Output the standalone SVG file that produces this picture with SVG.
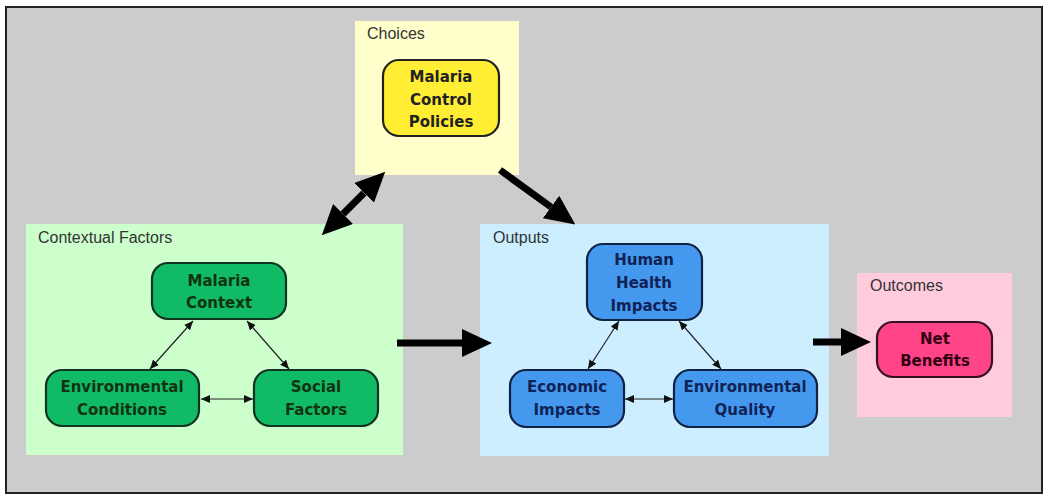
<svg xmlns="http://www.w3.org/2000/svg" width="1050" height="503" viewBox="0 0 1050 503">
<style>
.grp{font-family:"Liberation Sans",Arial,sans-serif;font-size:16px;fill:#333}
.nt{font-family:"DejaVu Sans",Verdana,sans-serif;font-weight:bold;font-size:15px;text-anchor:middle}
.node{stroke-width:2.2}
.big{stroke:#000;stroke-width:7;fill:none}
.sm{stroke:#222;stroke-width:1.2;fill:none}
</style>
<defs>
<marker id="bh" markerUnits="userSpaceOnUse" markerWidth="30" markerHeight="28" refX="0" refY="14" orient="auto-start-reverse" viewBox="0 0 30 28">
<path d="M0,0 L30,14 L0,28 z" fill="#000"/>
</marker>
<marker id="sh" markerUnits="userSpaceOnUse" markerWidth="9" markerHeight="8" refX="9" refY="4" orient="auto-start-reverse" viewBox="0 0 9 8">
<path d="M0,0 L9,4 L0,8 z" fill="#111"/>
</marker>
</defs>
<rect x="0" y="0" width="1050" height="503" fill="#fff"/>
<rect x="6" y="7" width="1036" height="486" fill="#cccccc" stroke="#222" stroke-width="2"/>

<g id="choices">
<rect x="355" y="21" width="164" height="154" fill="#ffffcc"/>
<text class="grp" x="367" y="39">Choices</text>
</g>
<g id="contextual-factors">
<rect x="26" y="224" width="377" height="231" fill="#ccffcc"/>
<text class="grp" x="38" y="243" fill="#224422">Contextual Factors</text>
</g>
<g id="outputs">
<rect x="480" y="224" width="349" height="232" fill="#cceeff"/>
<text class="grp" x="493" y="243" fill="#223344">Outputs</text>
</g>
<g id="outcomes">
<rect x="857" y="273" width="155" height="144" fill="#ffccdd"/>
<text class="grp" x="870" y="291" fill="#442233">Outcomes</text>
</g>

<g id="malaria-control-policies">
<rect class="node" x="383" y="60" width="116" height="76" rx="16" fill="#ffee33" stroke="#222"/>
<text class="nt" x="441" fill="#222"><tspan x="441" y="82">Malaria</tspan><tspan x="441" y="105">Control</tspan><tspan x="441" y="127">Policies</tspan></text>
</g>
<g id="malaria-context">
<rect class="node" x="152" y="263" width="134" height="56" rx="16" fill="#11bb66" stroke="#113322"/>
<text class="nt" x="219" fill="#113311"><tspan x="219" y="286">Malaria</tspan><tspan x="219" y="308">Context</tspan></text>
</g>
<g id="environmental-conditions">
<rect class="node" x="46" y="370" width="153" height="56" rx="16" fill="#11bb66" stroke="#113322"/>
<text class="nt" x="122" fill="#113311"><tspan x="122" y="392">Environmental</tspan><tspan x="122" y="415">Conditions</tspan></text>
</g>
<g id="social-factors">
<rect class="node" x="254" y="370" width="124" height="56" rx="16" fill="#11bb66" stroke="#113322"/>
<text class="nt" x="316" fill="#113311"><tspan x="316" y="392">Social</tspan><tspan x="316" y="415">Factors</tspan></text>
</g>
<g id="human-health-impacts">
<rect class="node" x="587" y="244" width="115" height="76" rx="16" fill="#4499ee" stroke="#112244"/>
<text class="nt" x="644" fill="#112255"><tspan x="644" y="265">Human</tspan><tspan x="644" y="288">Health</tspan><tspan x="644" y="311">Impacts</tspan></text>
</g>
<g id="economic-impacts">
<rect class="node" x="510" y="370" width="114" height="57" rx="16" fill="#4499ee" stroke="#112244"/>
<text class="nt" x="567" fill="#112255"><tspan x="567" y="392">Economic</tspan><tspan x="567" y="415">Impacts</tspan></text>
</g>
<g id="environmental-quality">
<rect class="node" x="674" y="370" width="143" height="57" rx="16" fill="#4499ee" stroke="#112244"/>
<text class="nt" x="745" fill="#112255"><tspan x="745" y="392">Environmental</tspan><tspan x="745" y="415">Quality</tspan></text>
</g>
<g id="net-benefits">
<rect class="node" x="877" y="322" width="115" height="55" rx="16" fill="#ff4488" stroke="#331122"/>
<text class="nt" x="935" fill="#330011"><tspan x="935" y="344">Net</tspan><tspan x="935" y="366">Benefits</tspan></text>
</g>

<g id="connectors">
<line class="big" x1="364" y1="193" x2="343" y2="214" marker-start="url(#bh)" marker-end="url(#bh)"/>
<line class="big" x1="500" y1="170" x2="551" y2="207" marker-end="url(#bh)"/>
<line class="big" x1="397" y1="343" x2="462" y2="343" marker-end="url(#bh)"/>
<line class="big" x1="813" y1="342" x2="841" y2="342" marker-end="url(#bh)"/>
<line class="sm" x1="193" y1="321" x2="150" y2="369" marker-start="url(#sh)" marker-end="url(#sh)"/>
<line class="sm" x1="247" y1="321" x2="289" y2="369" marker-start="url(#sh)" marker-end="url(#sh)"/>
<line class="sm" x1="201" y1="399" x2="253" y2="399" marker-start="url(#sh)" marker-end="url(#sh)"/>
<line class="sm" x1="619" y1="321" x2="588" y2="369" marker-start="url(#sh)" marker-end="url(#sh)"/>
<line class="sm" x1="679" y1="321" x2="721" y2="369" marker-start="url(#sh)" marker-end="url(#sh)"/>
<line class="sm" x1="625" y1="399" x2="673" y2="399" marker-start="url(#sh)" marker-end="url(#sh)"/>
</g>
</svg>
